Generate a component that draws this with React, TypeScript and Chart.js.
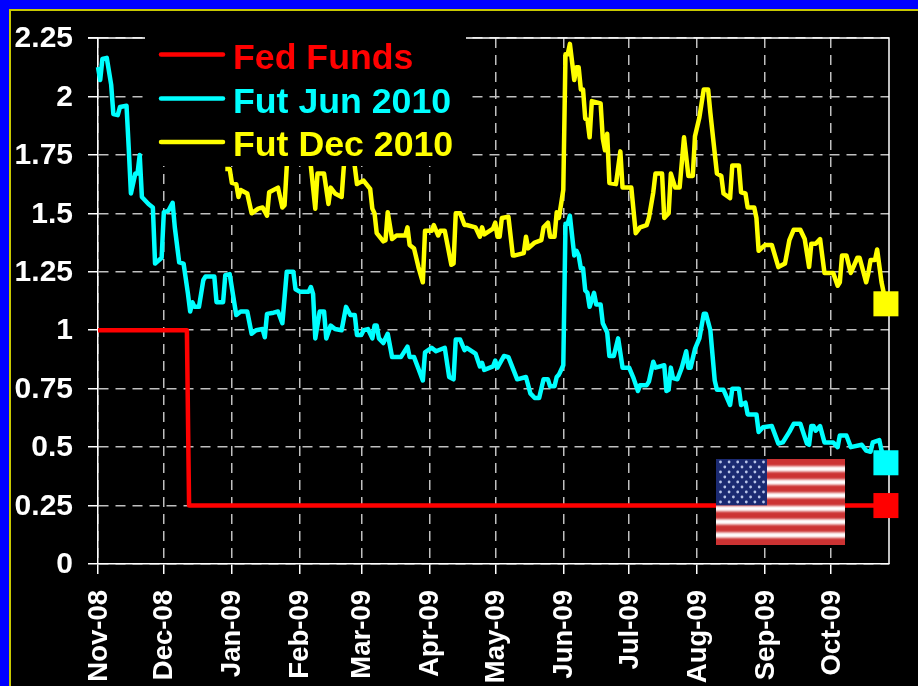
import React, { useEffect, useRef } from "react";
import { Chart, registerables } from "chart.js";

Chart.register(...registerables);

const monthDays = [0, 30, 61, 92, 120, 151, 181, 212, 242, 273, 304, 334];
const monthLabels = ["Nov-08", "Dec-08", "Jan-09", "Feb-09", "Mar-09", "Apr-09", "May-09", "Jun-09", "Jul-09", "Aug-09", "Sep-09", "Oct-09"];

const fedDays = [0, 40.5, 41.5, 359];
const fedValues = [1, 1, 0.25, 0.25];

const junDays = [0, 1, 2, 4, 6, 7, 9, 10, 13, 14, 15, 17, 18, 19, 20, 23, 25, 26, 29, 30, 32, 34, 35, 37, 39, 41, 42, 43, 44, 46, 48, 49, 53, 54, 57, 58, 60, 63, 65, 68, 70, 72, 75, 76, 77, 80, 82, 84, 86, 89, 90, 92, 96, 97, 98, 99, 101, 103, 104, 106, 108, 111, 113, 115, 117, 118, 120, 121, 123, 125, 126, 127, 128, 130, 132, 134, 138, 141, 142, 144, 146, 148, 149, 152, 154, 158, 160, 162, 163, 165, 167, 168, 172, 174, 175, 176, 180, 181, 182, 185, 187, 191, 195, 197, 199, 201, 203, 205, 206, 208, 209, 210, 212, 213, 214, 215, 217, 218, 219, 220, 221, 222, 223, 224, 226, 227, 229, 230, 232, 233, 235, 237, 239, 242, 244, 246, 247, 250, 251, 253, 254, 258, 259, 260, 261, 262, 264, 266, 268, 269, 270, 272, 274, 276, 277, 279, 281, 282, 285, 288, 289, 292, 293, 295, 296, 300, 301, 303, 307, 310, 312, 315, 317, 320, 323, 324, 325, 326, 327, 329, 331, 335, 337, 338, 341, 343, 348, 350, 352, 353, 356, 357, 359];
const junValues = [2.125, 2.07, 2.16, 2.165, 2.05, 1.925, 1.92, 1.955, 1.96, 1.78, 1.585, 1.67, 1.67, 1.75, 1.57, 1.54, 1.525, 1.285, 1.31, 1.505, 1.51, 1.545, 1.44, 1.29, 1.285, 1.155, 1.08, 1.12, 1.1, 1.1, 1.215, 1.23, 1.23, 1.12, 1.12, 1.235, 1.24, 1.065, 1.08, 1.08, 0.985, 1.0, 1.005, 0.97, 1.07, 1.075, 1.08, 1.03, 1.25, 1.25, 1.175, 1.165, 1.165, 1.185, 1.155, 0.965, 1.08, 1.08, 0.965, 1.02, 1.005, 1.0, 1.1, 1.065, 1.065, 0.98, 0.98, 1.0, 1.005, 0.965, 1.02, 1.02, 0.965, 0.945, 0.985, 0.885, 0.885, 0.93, 0.885, 0.885, 0.835, 0.785, 0.905, 0.925, 0.91, 0.925, 0.8, 0.79, 0.96, 0.96, 0.915, 0.925, 0.9, 0.845, 0.86, 0.83, 0.845, 0.87, 0.84, 0.89, 0.885, 0.79, 0.8, 0.73, 0.71, 0.71, 0.79, 0.79, 0.76, 0.76, 0.8, 0.81, 0.85, 1.455, 1.455, 1.49, 1.32, 1.34, 1.32, 1.265, 1.265, 1.17, 1.16, 1.1, 1.16, 1.11, 1.11, 1.03, 0.99, 0.89, 0.89, 0.965, 0.84, 0.84, 0.795, 0.74, 0.765, 0.765, 0.78, 0.865, 0.84, 0.85, 0.74, 0.745, 0.84, 0.795, 0.79, 0.84, 0.91, 0.84, 0.84, 0.92, 0.965, 1.07, 1.07, 1.0, 0.785, 0.745, 0.745, 0.68, 0.75, 0.75, 0.68, 0.69, 0.64, 0.64, 0.565, 0.585, 0.59, 0.515, 0.52, 0.565, 0.6, 0.6, 0.515, 0.51, 0.59, 0.59, 0.57, 0.59, 0.52, 0.52, 0.5, 0.55, 0.55, 0.5, 0.51, 0.485, 0.48, 0.52, 0.53, 0.485, 0.433];

const decDays = [58, 60, 61, 63, 64, 65, 68, 70, 73, 75, 77, 78, 82, 84, 85, 86, 89, 92, 95, 97, 99, 100, 103, 105, 106, 108, 111, 112, 114, 115, 117, 118, 121, 124, 125, 126, 127, 130, 131, 132, 134, 136, 140, 141, 142, 144, 146, 148, 149, 152, 153, 155, 156, 158, 161, 162, 163, 165, 167, 168, 172, 174, 175, 176, 180, 181, 182, 183, 184, 187, 189, 190, 194, 195, 196, 199, 202, 203, 205, 206, 208, 209, 210, 212, 213, 214, 215, 217, 218, 219, 220, 221, 222, 223, 224, 225, 229, 230, 231, 232, 233, 236, 238, 239, 243, 245, 247, 250, 251, 253, 254, 257, 258, 260, 261, 263, 265, 267, 269, 271, 272, 274, 276, 278, 279, 282, 284, 285, 288, 289, 292, 293, 295, 296, 299, 300, 301, 304, 307, 310, 313, 315, 317, 320, 322, 324, 325, 327, 329, 331, 335, 337, 338, 339, 341, 343, 346, 347, 350, 351, 352, 354, 355, 357, 358, 359];
const decValues = [1.69, 1.69, 1.63, 1.625, 1.57, 1.6, 1.585, 1.5, 1.52, 1.525, 1.49, 1.59, 1.61, 1.525, 1.535, 1.7, 1.82, 1.88, 1.8, 1.7, 1.52, 1.67, 1.67, 1.54, 1.61, 1.585, 1.57, 1.7, 1.82, 1.8, 1.7, 1.625, 1.64, 1.605, 1.52, 1.5, 1.415, 1.38, 1.385, 1.505, 1.39, 1.405, 1.405, 1.44, 1.365, 1.35, 1.27, 1.205, 1.425, 1.425, 1.45, 1.405, 1.425, 1.425, 1.28, 1.285, 1.5, 1.5, 1.45, 1.45, 1.44, 1.4, 1.44, 1.41, 1.435, 1.46, 1.4, 1.4, 1.48, 1.485, 1.32, 1.32, 1.33, 1.4, 1.35, 1.375, 1.385, 1.44, 1.46, 1.4, 1.4, 1.505, 1.48, 1.6, 2.18, 2.18, 2.225, 2.07, 2.125, 2.125, 2.03, 2.03, 1.905, 1.9, 1.825, 1.98, 1.97, 1.82, 1.77, 1.84, 1.63, 1.625, 1.765, 1.61, 1.61, 1.415, 1.44, 1.45, 1.48, 1.59, 1.67, 1.67, 1.48, 1.5, 1.67, 1.61, 1.61, 1.825, 1.66, 1.66, 1.83, 1.91, 2.03, 2.03, 1.93, 1.67, 1.66, 1.585, 1.565, 1.705, 1.705, 1.59, 1.585, 1.525, 1.525, 1.48, 1.34, 1.365, 1.365, 1.27, 1.285, 1.385, 1.43, 1.43, 1.39, 1.27, 1.37, 1.37, 1.39, 1.245, 1.245, 1.19, 1.205, 1.32, 1.32, 1.245, 1.31, 1.31, 1.205, 1.245, 1.3, 1.3, 1.345, 1.205, 1.16, 1.113];

const seriesNames = ["Fed Funds", "Fut Jun 2010", "Fut Dec 2010"];
const seriesColors = ["#ff0000", "#00ffff", "#ffff00"];
const seriesDays = [fedDays, junDays, decDays];
const seriesValues = [fedValues, junValues, decValues];

const FONT = '"Liberation Sans", Arial, sans-serif';

const frameAndFlag = {
  id: "frameAndFlag",
  beforeDatasetsDraw(chart: any) {
    const { ctx, chartArea: a } = chart;
    ctx.save();
    ctx.strokeStyle = "#ffffff";
    ctx.lineWidth = 1.5;
    ctx.beginPath();
    ctx.moveTo(a.left, a.top);
    ctx.lineTo(a.right, a.top);
    ctx.lineTo(a.right, a.bottom);
    ctx.stroke();
    ctx.beginPath();
    ctx.moveTo(a.left - 10, a.top);
    ctx.lineTo(a.left, a.top);
    ctx.stroke();
    ctx.restore();
  },
  afterDatasetsDraw(chart: any) {
    const { ctx } = chart;
    ctx.save();
    // legend box hides whatever lies beneath it
    ctx.fillStyle = "#000000";
    ctx.fillRect(145, 30, 321, 136);
    ctx.lineCap = "round";
    ctx.lineWidth = 4.5;
    ctx.textBaseline = "alphabetic";
    ctx.textAlign = "left";
    ctx.font = `bold 35.7px ${FONT}`;
    const lineY = [54.5, 98.5, 142];
    const textY = [69, 112.5, 155.5];
    chart.data.datasets.forEach((d: any, i: number) => {
      ctx.strokeStyle = d.borderColor;
      ctx.beginPath();
      ctx.moveTo(161, lineY[i]);
      ctx.lineTo(223, lineY[i]);
      ctx.stroke();
      ctx.fillStyle = d.borderColor;
      ctx.fillText(d.label, 233, textY[i]);
    });
    // flag
    const fx = 716, fy = 459, fw = 129, fh = 86;
    ctx.beginPath();
    ctx.rect(fx, fy, fw, fh);
    ctx.save();
    ctx.clip();
    ctx.fillStyle = "#cc3333";
    ctx.fillRect(fx, fy, fw, fh);
    const sh = fh / 13;
    ctx.filter = "blur(1px)";
    ctx.fillStyle = "#ffffff";
    for (let s = 1; s < 13; s += 2) {
      ctx.fillRect(fx - 4, fy + s * sh + 0.6, fw + 8, sh - 1.2);
    }
    ctx.filter = "none";
    const cw = 51, ch = sh * 7;
    ctx.fillStyle = "#1b2a72";
    ctx.fillRect(fx, fy, cw, ch);
    ctx.fillStyle = "#b8c4e8";
    for (let r = 0; r < 9; r++) {
      const n = r % 2 === 0 ? 6 : 5;
      const off = r % 2 === 0 ? 4.5 : 8.8;
      for (let c = 0; c < n; c++) {
        ctx.beginPath();
        ctx.arc(fx + off + c * 8.6, fy + 3 + r * 5, 1.4, 0, Math.PI * 2);
        ctx.fill();
      }
    }
    ctx.restore();
    ctx.restore();
  },
};

export default function App() {
  const ref = useRef<HTMLCanvasElement>(null);
  useEffect(() => {
    const chart = new Chart(ref.current as HTMLCanvasElement, {
      type: "line",
      data: {
        datasets: seriesNames.map((name, i) => ({
          label: name,
          data: seriesDays[i].map((d, j) => ({ x: d, y: seriesValues[i][j] })),
          borderColor: seriesColors[i],
          backgroundColor: seriesColors[i],
          borderWidth: 4.5,
          borderJoinStyle: "round" as const,
          tension: 0,
          clip: false as any,
          pointStyle: "rect",
          pointBorderWidth: 0,
          pointRadius: (c: any) => (c.dataIndex === seriesDays[i].length - 1 ? 17.7 : 0),
          pointHoverRadius: 0,
        })),
      },
      options: {
        responsive: false,
        animation: false,
        layout: { padding: { top: 38, right: 29, left: 0, bottom: 0 } },
        plugins: { legend: { display: false }, tooltip: { enabled: false } },
        scales: {
          x: {
            type: "linear",
            min: 0,
            max: 360.4,
            afterBuildTicks: (s: any) => {
              s.ticks = monthDays.map((v) => ({ value: v }));
            },
            afterFit: (s: any) => {
              s.height = 122;
            },
            ticks: {
              autoSkip: false,
              minRotation: 90,
              maxRotation: 90,
              padding: 16,
              labelOffset: 1,
              color: "#ffffff",
              font: { family: FONT, size: 27.5, weight: "bold" },
              callback: (_v: any, i: number) => monthLabels[i],
            },
            border: { color: "#ffffff", width: 1.5, dash: [10, 7] },
            grid: { color: "#c0c0c0", lineWidth: 1.5, tickColor: "#ffffff", tickLength: 10, tickBorderDash: [] },
          },
          y: {
            min: 0,
            max: 2.25,
            afterFit: (s: any) => {
              s.width = 98;
            },
            ticks: {
              stepSize: 0.25,
              padding: 15,
              labelOffset: 1,
              color: "#ffffff",
              font: { family: FONT, size: 30, weight: "bold" },
              callback: (v: any) => String(v),
            },
            border: { color: "#ffffff", width: 1.5, dash: [10, 7] },
            grid: { color: "#c0c0c0", lineWidth: 1.5, tickColor: "#ffffff", tickLength: 10, tickBorderDash: [] },
          },
        },
      },
      plugins: [frameAndFlag],
    } as any);
    return () => chart.destroy();
  }, []);
  return (
    <div style={{ position: "fixed", left: 0, top: 0, width: 918, height: 686, background: "#000", overflow: "hidden" }}>
      <div style={{ position: "absolute", left: 0, top: 0, width: 918, height: 9, background: "#0000ff" }} />
      <div style={{ position: "absolute", left: 0, top: 0, width: 9, height: 686, background: "#0000ff" }} />
      <div style={{ position: "absolute", left: 9, top: 9, width: 909, height: 1.5, background: "#c8c800" }} />
      <div style={{ position: "absolute", left: 9, top: 9, width: 1.5, height: 677, background: "#c8c800" }} />
      <canvas ref={ref} width={918} height={686} style={{ position: "absolute", left: 0, top: 0 }} />
    </div>
  );
}
